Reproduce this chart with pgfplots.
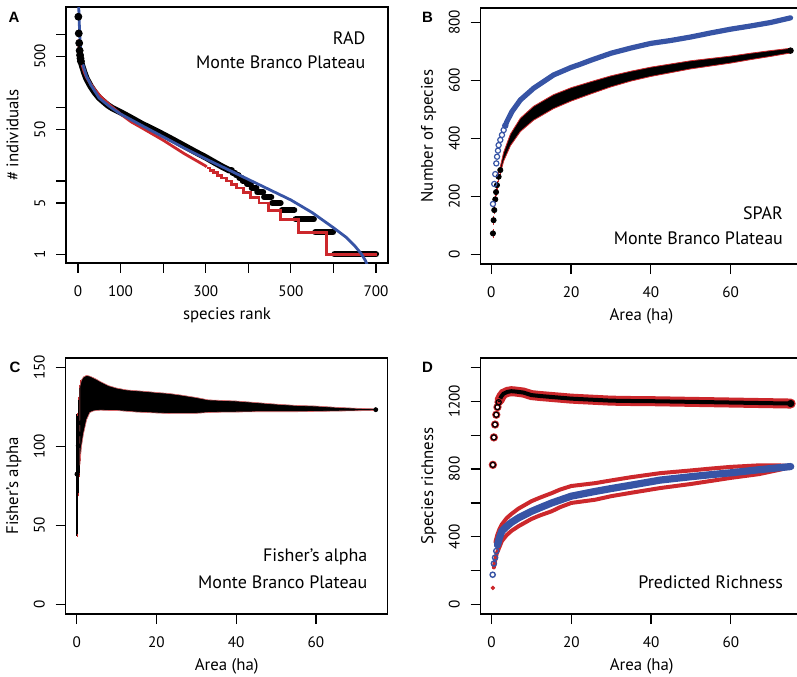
\documentclass[border=0pt]{standalone}
\usepackage{fontspec}
\setmainfont{PT Sans}
\newfontfamily\lettfont{Liberation Sans}
\usepackage{pgfplots}
\pgfplotsset{compat=1.18}
\usepackage{pgfplotstable}
\definecolor{rred}{RGB}{204,40,44}
\definecolor{rblue}{RGB}{55,84,165}

\pgfplotsset{
  rpanel/.style={
    scale only axis, width=161pt, height=128pt,
    axis line style={line width=0.6pt},
    tick align=outside, major tick length=5pt, minor tick length=0pt,
    tick style={line width=0.6pt, black},
    tick pos=left,
    tick label style={font=\fontsize{7.6}{8}\selectfont},
    label style={font=\fontsize{8.4}{9}\selectfont},
    /pgf/number format/assume math mode=true,
    yticklabel style={xshift=-5.5pt, rotate=90, anchor=base, inner sep=0pt},
    xticklabel style={anchor=north, inner sep=0pt, yshift=-6pt},
    xlabel style={at={(axis description cs:0.5,0)}, anchor=base, yshift=-28pt},
    ylabel style={at={(axis description cs:-0.148,0.5)}, anchor=base},
  },
}
\tikzset{
  annot/.style={font=\fontsize{9}{10}\selectfont, anchor=base east, inner sep=0pt},
  letter/.style={font=\lettfont\bfseries\fontsize{7.5}{8}\selectfont, inner sep=0pt},
}

% panel B, black band: upper edge then lower edge back
\pgfplotstableread{
x y
2.26 302
3.1 352
4.8 415
7.3 470
10.6 511
15.6 551
20 575
25 596
30 616
35 632
40 646
45 657
50 668
55 676
60 684
65 694
70 703
75 711
75 695
70 683
65 672
60 660
55 650
50 640
45 627
40 614
35 598
30 578
25 554
20 529
15.6 503
10.6 463
7.3 424
4.8 375
3.1 322
2.26 280
}\bband

\pgfplotstableread{
x y e
0.42 72.5 9
0.58 118 8
0.75 153 8
1.0 190 8
1.2 215 8
1.43 239 9
1.84 268 10
2.26 291 11
}\bearly

% panel C, band: upper edge then lower edge back
\pgfplotstableread{
x y
0.8 138
1.2 142
1.7 144
2.5 145
3.3 144.5
4.2 143.5
5 142.5
6 141
8 138.5
10 137
12.5 135.8
15 135.3
17.5 134.8
20 134.2
23 133.6
26 132.6
30 131
33 129.5
36 129.2
40 128.8
45 127.8
50 126.8
55 126
60 125.6
65 124.8
70 124.2
75 123.8
75 122.8
70 122.6
65 122.4
60 122.2
55 122
50 122
45 122
40 121.8
36 121.7
33 121.5
30 121
26 121
23 120.9
20 121.2
17.5 121.5
15 121.8
12.5 122.3
10 122.8
8 122.8
6 123
5 122.8
4.2 122.5
3.3 121.5
2.5 117
1.7 108
1.2 100
0.8 88
}\cband

\pgfplotstableread{
x y ep em
0.1 82.5 38 38.9
0.4 100.5 30 31
0.7 108 30 26
1.0 115 26 23
}\cearly

\begin{document}
\begin{tikzpicture}
\useasboundingbox (0,0) rectangle (398.5pt,338pt);

% ---------------- A ----------------
\begin{axis}[rpanel, at={(33pt,206.5pt)}, anchor=south west,
  ymode=log, xmin=-28, xmax=728, ymin=0.76, ymax=2360,
  xtick={0,100,200,300,400,500,600,700}, xticklabels={0,100,,300,,500,,700},
  ytick={1,5,10,50,100,500,1000}, yticklabels={1,5,,50,,500,},
  xlabel={species rank}, ylabel={\# individuals}]
\addplot[black, mark=*, only marks, mark size=1.75pt] coordinates {
(1,1740) (2,1030) (3,760) (4,600) (5,520) (6,470) (7,430)};
\addplot[black, line width=3.2pt, line cap=round, line join=round] coordinates {
(7,430) (10,370) (15,300) (20,250) (30,195) (40,160) (50,136) (60,121) (70,108)
(80,99) (100,86.5) (120,75) (150,60) (175,51) (200,43) (225,36) (250,30)
(275,25) (300,21) (320,18) (340,15.5) (355,14) (361,14)};
\addplot[black, line width=3pt, line cap=round, unbounded coords=jump] coordinates {
(363,13) (369,13) (369,nan) (371,12) (377,12) (377,nan) (379,11) (385,11) (385,nan)
(387,10) (395,10) (395,nan) (397,9) (406,9) (406,nan) (408,8) (419,8) (419,nan)
(421,7) (435,7) (435,nan) (437,6) (454,6) (454,nan) (456,5) (476,5) (476,nan)
(479,4) (508,4) (508,nan) (511,3) (554,3) (554,nan) (557,2) (599,2) (599,nan)
(602,1) (700,1)};
\addplot[rred, line width=1.4pt] coordinates {
(1,850) (2,720) (3,620) (5,525) (7,440) (10,380) (15,305) (20,260) (30,210)
(40,175) (50,149) (60,130) (75,108) (100,82) (125,64) (150,53) (200,36)
(250,23.5) (300,16) (302,15.5)};
\addplot[rred, line width=1.4pt, const plot] coordinates {
(302,15) (310,14) (318,13) (327,12) (337,11) (348,10) (360,9) (373,8) (388,7)
(405,6) (425,5) (448,4) (475,3) (518,2) (583,1) (702,1)};
\addplot[rblue, line width=1.4pt] coordinates {
(0.5,6000) (1,3500) (2,2300) (3,1500) (5,800) (8,500) (12,380) (20,270)
(30,205) (50,135) (75,103) (100,82) (150,57) (200,40) (250,28) (300,20)
(350,14.5) (400,10.5) (450,7.6) (500,5.5) (550,3.7) (600,2.3) (630,1.7)
(650,1.3) (665,1.02) (675,0.82) (682,0.65) (688,0.5)};
\end{axis}

% ---------------- B ----------------
\begin{axis}[rpanel, at={(240.25pt,206pt)}, anchor=south west,
  xmin=-2.7, xmax=78, ymin=-33, ymax=850,
  xtick={0,20,40,60}, ytick={0,200,400,600,800},
  xlabel={Area (ha)}, ylabel={Number of species}]
\addplot[fill=black, draw=rred, line width=0.4pt] table[x=x, y=y] {\bband} -- cycle;
\addplot[black, only marks, mark=*, mark size=1.3pt,
  error bars/.cd, y dir=both, y explicit,
  error bar style={rred, line width=0.5pt},
  error mark options={rred, mark size=1pt}]
  table[x=x, y=y, y error=e] {\bearly};
\addplot[black, only marks, mark=*, mark size=1.4pt] coordinates {(75,703)};
\addplot[rblue, only marks, mark=o, mark size=1.3pt, line width=0.6pt] coordinates {
(0.42,174) (0.75,243) (1.0,277) (1.26,314) (1.45,337) (1.68,358) (1.84,377)
(2.26,395) (2.68,412) (3.1,429) (3.5,444)};
\addplot[rblue, line width=2.6pt, line cap=round] coordinates {
(3.5,444) (3.9,458) (5.2,493) (7.3,533) (10.6,573) (15.6,619) (20,645)
(22.3,656) (25,670) (30,694) (35,712) (40,728) (45,738) (50,750) (55,764)
(60,777) (65,788) (70,800) (75,816)};
\end{axis}

% ---------------- C ----------------
\begin{axis}[rpanel, at={(32.85pt,31pt)}, anchor=south west,
  xmin=-2.75, xmax=78, ymin=-6, ymax=156,
  xtick={0,20,40,60}, ytick={0,50,100,150},
  xlabel={Area (ha)}, ylabel={Fisher’s alpha}]
\addplot[black, only marks, mark=*, mark size=1pt,
  error bars/.cd, y dir=both, y explicit,
  error bar style={black, line width=0.6pt},
  error mark options={rred, mark size=0.8pt}]
  table[x=x, y=y, y error plus=ep, y error minus=em] {\cearly};
\addplot[fill=black, draw=rred!70, line width=0.3pt] table[x=x, y=y] {\cband} -- cycle;
\addplot[black, only marks, mark=*, mark size=1pt] coordinates {(0.1,82.5) (0.4,100.5) (75,123.3)};
\end{axis}

% ---------------- D ----------------
\begin{axis}[rpanel, at={(240.35pt,31pt)}, anchor=south west,
  xmin=-2.7, xmax=78, ymin=-56, ymax=1456,
  xtick={0,20,40,60}, ytick={0,200,400,600,800,1000,1200,1400},
  yticklabels={0,,400,,800,,1200,},
  xlabel={Area (ha)}, ylabel={Species richness}]
% top: total richness
\addplot[rred, only marks, mark=o, mark size=1.5pt, line width=1.1pt] coordinates {
(0.35,825) (0.6,987) (0.9,1063) (1.2,1121) (1.5,1166) (1.8,1195)};
\addplot[black, only marks, mark=o, mark size=1.3pt, line width=0.6pt] coordinates {
(0.35,825) (0.6,987) (0.9,1063) (1.2,1121) (1.5,1166) (1.8,1195)};
\addplot[rred, line width=5pt, line cap=round] coordinates {
(2,1206) (2.5,1230) (3,1245) (4,1256) (5,1260) (6,1258) (8,1252) (10,1237)
(12,1232) (15,1226) (20,1216) (25,1210) (30,1204) (35,1202) (40,1201)
(45,1199) (50,1197) (55,1195) (60,1193) (65,1191) (70,1189) (75,1187)};
\addplot[black, line width=2pt, line cap=round] coordinates {
(2,1206) (2.5,1230) (3,1245) (4,1256) (5,1260) (6,1258) (8,1252) (10,1237)
(12,1232) (15,1226) (20,1216) (25,1210) (30,1204) (35,1202) (40,1201)
(45,1199) (50,1197) (55,1195) (60,1193) (65,1191) (70,1189) (75,1187)};
\addplot[black, only marks, mark=*, mark size=1.6pt] coordinates {(75,1187)};
% bottom: observed with envelope
\addplot[rred, only marks, mark=*, mark size=0.9pt] coordinates {(0.35,98)};
\addplot[rred, line width=2pt, line cap=round] coordinates {
(0.6,219) (0.9,258) (1.3,300) (2,340) (2.6,375) (3.8,410) (5,435) (6.8,463)
(10,505) (12,525) (15.1,551) (17.2,575) (20,600) (26,619) (30,640) (35,660)
(42.3,688) (50,712) (55,730) (60,748) (67,770) (72,795) (75,812)};
\addplot[rred, line width=2pt, line cap=round] coordinates {
(1,370) (1.5,414) (2,445) (2.6,473) (3.8,510) (5,535) (6.8,567) (10,610)
(12,630) (15.1,658) (17.2,679) (20,700) (26,717) (30,733) (35,752) (42.3,776)
(50,792) (55,803) (60,813) (67,822) (72,822) (75,817)};
\addplot[rblue, only marks, mark=o, mark size=1.3pt, line width=0.7pt] coordinates {
(0.3,176) (0.6,242) (0.9,277) (1.2,316) (1.5,352)};
\addplot[rblue, line width=3.6pt, line cap=round] coordinates {
(1.5,352) (2,395) (2.6,434) (3.5,455) (5,485) (6.8,512) (10,550) (12,570)
(15.1,600) (20,640) (26,668) (30,685) (35,705) (42.3,735) (50,755) (55,767)
(60,778) (67,796) (75,815)};
\end{axis}

% texts and panel letters
\node[letter] at (7pt,329.5pt) {A};
\node[letter] at (213.75pt,329.5pt) {B};
\node[letter] at (7.5pt,154.25pt) {C};
\node[letter] at (213.75pt,154.25pt) {D};
\node[annot] at (182.85pt,315.5pt) {RAD};
\node[annot] at (182.85pt,303.75pt) {Monte Branco Plateau};
\node[annot] at (391.65pt,228.35pt) {SPAR};
\node[annot] at (391.65pt,215.85pt) {Monte Branco Plateau};
\node[annot] at (183.85pt,57.15pt) {Fisher’s alpha};
\node[annot] at (183.85pt,43.85pt) {Monte Branco Plateau};
\node[annot] at (391.65pt,43.65pt) {Predicted Richness};
\end{tikzpicture}
\end{document}
